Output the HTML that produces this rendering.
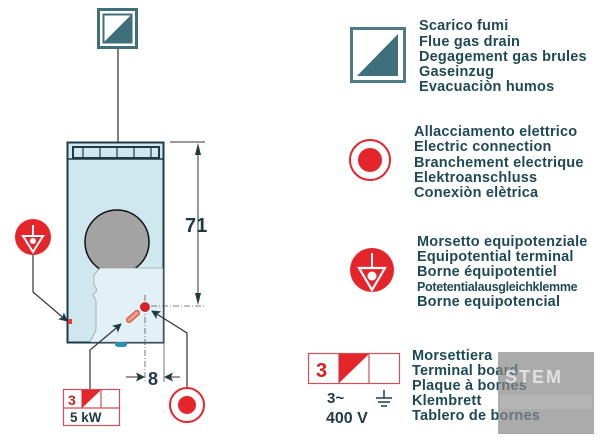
<!DOCTYPE html>
<html><head><meta charset="utf-8"><style>
html,body{margin:0;padding:0;background:#fff;}
svg{display:block;}
text{font-family:"Liberation Sans",Arial,sans-serif;font-weight:bold;}
.t{fill:#1f4a55;font-size:14.5px;letter-spacing:0.2px;}
</style></head><body>
<svg width="600" height="438" viewBox="0 0 600 438" xmlns="http://www.w3.org/2000/svg">
<defs>
<marker id="a" markerWidth="9" markerHeight="9" refX="8" refY="4.5" orient="auto" markerUnits="userSpaceOnUse"><path d="M0,0 L9,4.5 L0,9 L2,4.5 Z" fill="#1f3a44"/></marker>
</defs>
<rect x="98.5" y="9.5" width="38" height="38" fill="#fff" stroke="#3f6f7b" stroke-width="3"/>
<rect x="103.5" y="14.5" width="28" height="28" fill="#fff" stroke="#3f6f7b" stroke-width="2"/>
<path d="M131,15 L131,42 L104,42 Z" fill="#3f6f7b"/>
<line x1="118" y1="48" x2="118" y2="150" stroke="#555" stroke-width="1.5" marker-end="url(#a)"/>
<rect x="67.5" y="142.5" width="96" height="200" fill="#cfe8f0" stroke="#1f3a44" stroke-width="2"/>
<rect x="73" y="147" width="86" height="11" fill="#cfe8f0" stroke="#1f3a44" stroke-width="2"/>
<g stroke="#1f3a44" stroke-width="1.2"><line x1="83" y1="148" x2="83" y2="157"/><line x1="100" y1="148" x2="100" y2="157"/><line x1="117" y1="148" x2="117" y2="157"/><line x1="134" y1="148" x2="134" y2="157"/><line x1="151" y1="148" x2="151" y2="157"/></g>
<line x1="68" y1="159" x2="163" y2="159" stroke="#1f3a44" stroke-width="1.5"/>
<circle cx="117" cy="242" r="32" fill="#a3a3a3" stroke="#111" stroke-width="1.5"/>
<path d="M100,268 L163,268 L163,342 L90,342 L96,330 L96,300 L93,295 L97,290 L94,285 L94,275 Z" fill="#e2f1f6" stroke="#888" stroke-width="0.6"/>
<rect x="115" y="342" width="12" height="5" rx="3" fill="#2a8fb0"/>
<line x1="170" y1="142" x2="205" y2="142" stroke="#333" stroke-width="1"/>
<line x1="140" y1="306" x2="205" y2="306" stroke="#555" stroke-width="0.8" stroke-dasharray="6,2,1,2"/>
<line x1="198" y1="146" x2="198" y2="302" stroke="#333" stroke-width="1"/>
<path d="M198,143 L195,155 L201,155 Z M198,305 L195,293 L201,293 Z" fill="#1f3a44"/>
<text x="185" y="232" font-size="20" fill="#1f3a44">71</text>
<line x1="145" y1="295" x2="145" y2="382" stroke="#555" stroke-width="0.8" stroke-dasharray="6,2,1,2"/>
<line x1="164" y1="343" x2="164" y2="382" stroke="#555" stroke-width="0.8"/>
<line x1="126" y1="377" x2="144" y2="377" stroke="#333" stroke-width="1" marker-end="url(#a)"/>
<line x1="180" y1="377" x2="165" y2="377" stroke="#333" stroke-width="1" marker-end="url(#a)"/>
<text x="148" y="385" font-size="18" fill="#1f3a44">8</text>
<circle cx="145" cy="307" r="4.5" fill="#e0202a" stroke="#900" stroke-width="0.6"/>
<circle cx="33" cy="237" r="18" fill="#e4262c"/>
<path d="M23,236 L43,236 L33,252 Z" fill="none" stroke="#fff" stroke-width="2"/>
<line x1="33" y1="225" x2="33" y2="236" stroke="#fff" stroke-width="2"/>
<circle cx="33" cy="241" r="3" fill="#fff"/>
<polyline points="33,255 33,292 67,321" fill="none" stroke="#333" stroke-width="1.2" marker-end="url(#a)"/>
<rect x="68" y="319" width="4" height="5" fill="#e33"/>
<line x1="129" y1="320" x2="137" y2="313" stroke="#d0504a" stroke-width="6" stroke-linecap="round"/>
<line x1="129" y1="320" x2="137" y2="313" stroke="#f0a080" stroke-width="3.5" stroke-linecap="round"/>
<polyline points="90,390 90,350 121,324" fill="none" stroke="#333" stroke-width="1.2" marker-end="url(#a)"/>
<polyline points="187,390 187,333 152,311" fill="none" stroke="#333" stroke-width="1.2" marker-end="url(#a)"/>
<circle cx="187" cy="405" r="17" fill="#fff" stroke="#e4262c" stroke-width="2"/>
<circle cx="187" cy="405" r="9" fill="#e4262c"/>
<rect x="63.5" y="389.5" width="56" height="36" fill="#fff" stroke="#d05055" stroke-width="1.2"/>
<line x1="63" y1="408" x2="120" y2="408" stroke="#d05055" stroke-width="1.2"/>
<line x1="82" y1="389" x2="82" y2="408" stroke="#d05055" stroke-width="1.2"/>
<line x1="101" y1="389" x2="101" y2="408" stroke="#d05055" stroke-width="1.2"/>
<path d="M82,390 L101,390 L82,408 Z" fill="#e4262c"/>
<text x="68" y="405" font-size="14" fill="#d02020">3</text>
<text x="70" y="422" font-size="13.5" fill="#1f3a44">5 kW</text>
<rect x="351.5" y="28.5" width="53" height="53" fill="#fff" stroke="#4f7a86" stroke-width="3"/>
<path d="M398,34 L398,76 L357,76 Z" fill="#3f6f7b"/>
<g class="t">
<text x="419" y="30">Scarico fumi</text>
<text x="419" y="46">Flue gas drain</text>
<text x="419" y="61">Degagement gas brules</text>
<text x="419" y="76">Gaseinzug</text>
<text x="419" y="91">Evacuaciòn humos</text>
<text x="414" y="136">Allacciamento elettrico</text>
<text x="414" y="151">Electric connection</text>
<text x="414" y="167">Branchement electrique</text>
<text x="414" y="182">Elektroanschluss</text>
<text x="414" y="197">Conexiòn elètrica</text>
<text x="417" y="246">Morsetto equipotenziale</text>
<text x="417" y="261">Equipotential terminal</text>
<text x="417" y="276">Borne équipotentiel</text>
<text x="417" y="291" font-size="12.5" letter-spacing="-0.3">Potetentialausgleichklemme</text>
<text x="417" y="306">Borne equipotencial</text>
<text x="412" y="360">Morsettiera</text>
<text x="412" y="375">Terminal board</text>
<text x="412" y="390">Plaque à bornes</text>
<text x="412" y="405">Klembrett</text>
<text x="412" y="420">Tablero de bornes</text>
</g>
<circle cx="370" cy="160" r="20" fill="#fff" stroke="#e4262c" stroke-width="2"/>
<circle cx="370" cy="160" r="12" fill="#e4262c"/>
<circle cx="372" cy="270" r="22" fill="#e4262c"/>
<path d="M359,268 L385,268 L372,290 Z" fill="none" stroke="#fff" stroke-width="2.2"/>
<line x1="372" y1="253" x2="372" y2="268" stroke="#fff" stroke-width="2"/>
<circle cx="372" cy="276" r="4.5" fill="#fff"/>
<rect x="308.5" y="353.5" width="91" height="30" fill="#fff" stroke="#d05055" stroke-width="1.2"/>
<line x1="339" y1="353" x2="339" y2="384" stroke="#d05055" stroke-width="1.2"/>
<line x1="369" y1="353" x2="369" y2="384" stroke="#d05055" stroke-width="1.2"/>
<path d="M339,354 L369,354 L339,383 Z" fill="#e4262c"/>
<text x="316" y="377" font-size="20" fill="#d02020">3</text>
<text x="327" y="403" font-size="15" fill="#1f3a44">3~</text>
<text x="326" y="423" font-size="16" fill="#1f3a44">400 V</text>
<g stroke="#1f3a44" stroke-width="1.5"><line x1="384" y1="390" x2="384" y2="398"/><line x1="376" y1="398" x2="392" y2="398"/><line x1="378" y1="402" x2="390" y2="402"/><line x1="381" y1="406" x2="387" y2="406"/></g>
<rect x="498" y="352" width="96" height="82" fill="#888" opacity="0.7"/>
<rect x="500" y="395" width="92" height="14" fill="#bbb" opacity="0.6"/>
<text x="505" y="383" font-size="18" font-weight="normal" fill="#e0e0e0" letter-spacing="2">STEM</text>
</svg>
</body></html>
